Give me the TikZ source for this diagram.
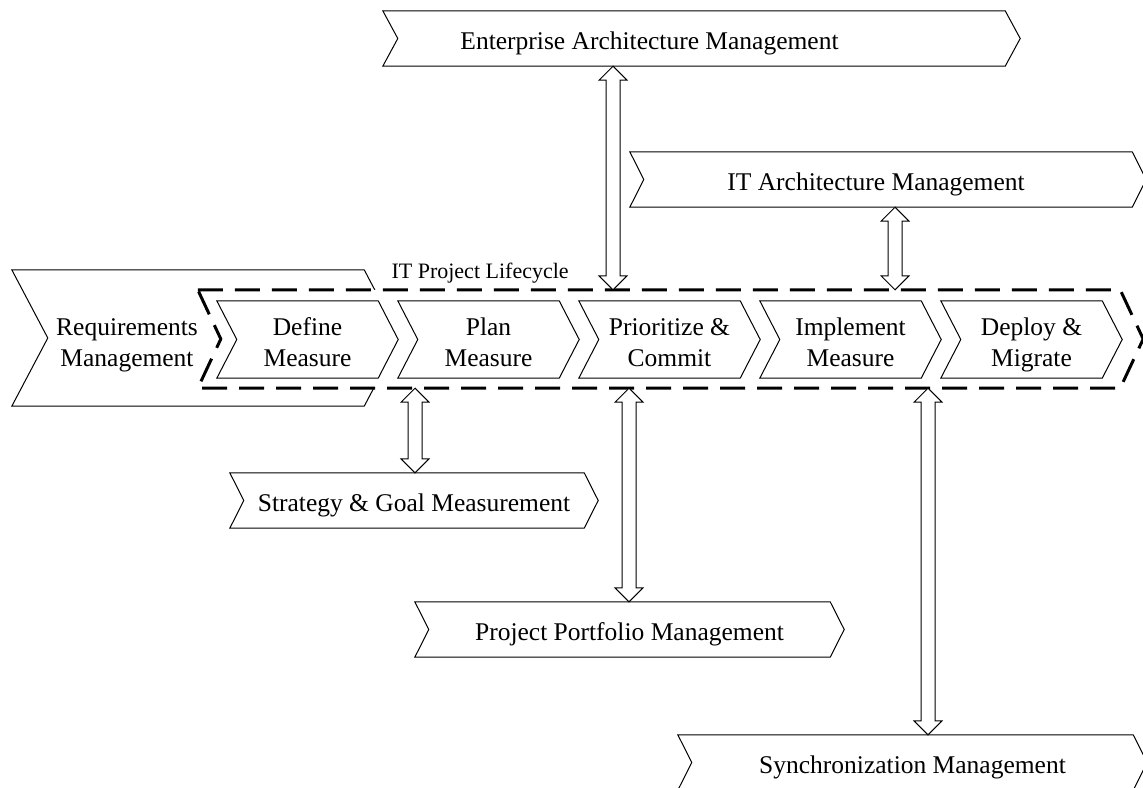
\documentclass[tikz,border=0pt]{standalone}
\usepackage{fontspec}
\setmainfont{Liberation Serif}
\usetikzlibrary{calc}
\pgfdeclarelayer{back}
\pgfsetlayers{back,main}

% fixed line height so single text lines sit on the same baseline grid
\newcommand\linestrut{\rule[-5pt]{0pt}{32pt}}
% two centred lines with equal line boxes
\newcommand\pair[2]{\strut#1\\\strut#2}

\tikzset{
  bigfont/.style={font=\fontsize{25.5}{32}\selectfont, execute at begin node=\linestrut},
  twolines/.style={align=center, font=\fontsize{25.5}{31}\selectfont},
  chev/.style={shape=rectangle, inner sep=0pt, minimum width=#1},
  stage/.style={chev=181, minimum height=77,
    label={[twolines, yshift=-5.5pt]center:#1}},
  band/.style={minimum height=55, bigfont},
  outline/.style={draw=black, line width=1pt, fill=white, line join=miter},
  lifecycle/.style={draw=black, line width=3pt, fill=white, line join=miter,
    dash pattern=on 25pt off 12pt},
  twoway/.style={draw=black, line width=1pt, fill=white, line join=miter},
}

% chevron outline around a node: flat left with a notch, pointed right
\newcommand\chevron[3][outline]{%
  \begin{pgfonlayer}{back}
    \path[#1] (#2.north west) -- ([xshift=-#3pt]#2.north east) -- (#2.east)
      -- ([xshift=-#3pt]#2.south east) -- (#2.south west)
      -- ([xshift=#3pt]#2.west) -- cycle;
  \end{pgfonlayer}}

% hollow double-headed vertical arrow between an upper and a lower point
\newcommand\twoway[2]{%
  \coordinate (twtop) at (#1);
  \coordinate (twbot) at (#2);
  \path[twoway] (twtop) -- ++(14,14) -- ++(-7,0) -- ($(twbot)+(7,-14)$)
    -- ++(7,0) -- (twbot) -- ++(-14,-14) -- ++(7,0)
    -- ($(twtop)+(-7,14)$) -- ++(-7,0) -- cycle;}

\begin{document}
\begin{tikzpicture}[x=1pt,y=-1pt]
\useasboundingbox (0,0) rectangle (1143,787);
\clip (0,0) rectangle (1143,787);
\begin{pgfonlayer}{back}
  \fill[white] (0,0) rectangle (1143,787);
\end{pgfonlayer}

% neighbouring management disciplines
\node[band, chev=637, label={[bigfont, xshift=-52pt]center:Enterprise Architecture Management}]
  (eam) at (701.5,38.5) {};
\node[band, chev=516, label={[bigfont, xshift=-12pt]center:IT Architecture Management}]
  (itam) at (888,179.5) {};
\node[chev=388, minimum height=136,
  label={[twolines, xshift=-79pt, yshift=-6.8pt]center:\pair{Requirements}{Management}}]
  (req) at (206,338) {};
\node[band, chev=368] (sgm) at (414,500.5) {Strategy \& Goal Measurement};
\node[band, chev=429] (ppm) at (629.5,629.5) {Project Portfolio Management};
\node[band, chev=469] (sync) at (912.5,762.5) {Synchronization Management};

% the lifecycle frame and its stages
\node[chev=945, minimum height=98] (frame) at (670.5,339) {};
\node[anchor=base west, font=\fontsize{22}{26}\selectfont] (lifelabel) at (388,278)
  {IT Project Lifecycle};
\node[stage={\pair{Define}{Measure}}]        (define) at (307.5,339.5) {};
\node[stage={\pair{Plan}{Measure}}]          (plan)   at (488.5,339.5) {};
\node[stage={\pair{Prioritize \&}{Commit}}]  (prio)   at (669.5,339.5) {};
\node[stage={\pair{Implement}{Measure}}]     (impl)   at (850.5,339.5) {};
\node[stage={\pair{Deploy \&}{Migrate}}]     (deploy) at (1031.5,339.5) {};

\chevron{req}{36}
\chevron[lifecycle]{frame}{23}
\chevron{define}{20}
\chevron{plan}{20}
\chevron{prio}{20}
\chevron{impl}{20}
\chevron{deploy}{20}
\chevron{eam}{15}
\chevron{itam}{14}
\chevron{sgm}{14}
\chevron{ppm}{14}
\chevron{sync}{14}

% interfaces to the lifecycle
\twoway{613,0 |- eam.south}{613,0 |- frame.north}
\twoway{895,0 |- itam.south}{895,0 |- frame.north}
\twoway{415,0 |- frame.south}{415,0 |- sgm.north}
\twoway{629,0 |- frame.south}{629,0 |- ppm.north}
\twoway{928,0 |- frame.south}{928,0 |- sync.north}
\end{tikzpicture}
\end{document}
